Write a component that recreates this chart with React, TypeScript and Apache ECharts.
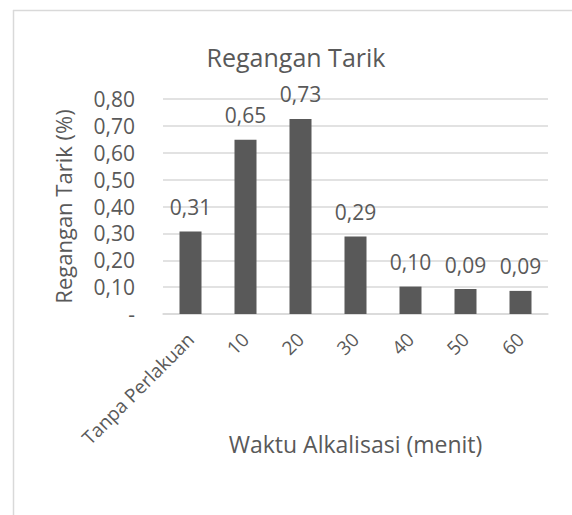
import React, { useEffect, useRef } from "react";
import * as echarts from "echarts";

const categories = ["Tanpa Perlakuan", "10", "20", "30", "40", "50", "60"];
const values = [0.307, 0.648, 0.726, 0.288, 0.102, 0.093, 0.086];
const chartTitle = "Regangan Tarik";
const yName = "Regangan Tarik (%)";
const xName = "Waktu Alkalisasi (menit)";

const FONT = "'Open Sans', 'Noto Sans', sans-serif";
const TEXT = "#595959";
const GRID = "#d9d9d9";

const fmt = (v: number) => (v === 0 ? "-" : v.toFixed(2).replace(".", ","));

export default function App() {
  const ref = useRef<HTMLDivElement>(null);
  useEffect(() => {
    if (!ref.current) return;
    const chart = echarts.init(ref.current, undefined, { renderer: "svg" });
    chart.setOption({
      animation: false,
      backgroundColor: "#ffffff",
      textStyle: { fontFamily: FONT },
      grid: { left: 163, right: 24, top: 99, bottom: 201, containLabel: false },
      graphic: [
        { type: "line", shape: { x1: 13.5, y1: 10, x2: 13.5, y2: 515 }, style: { stroke: GRID, lineWidth: 1.5 } },
        { type: "line", shape: { x1: 13, y1: 10.5, x2: 572, y2: 10.5 }, style: { stroke: GRID, lineWidth: 1.5 } },
        {
          type: "text",
          x: 296,
          y: 57,
          style: { text: chartTitle, fill: TEXT, font: `25px ${FONT}`, textAlign: "center", textVerticalAlign: "middle" },
        },
      ],
      xAxis: {
        type: "category",
        data: categories,
        name: xName,
        nameLocation: "middle",
        nameGap: 118,
        nameMoveOverlap: false,
        nameTextStyle: { color: TEXT, fontSize: 23, fontFamily: FONT },
        axisLine: { show: true, lineStyle: { color: GRID, width: 1.5 } },
        axisTick: { show: false },
        axisLabel: { rotate: 45, color: TEXT, fontSize: 19, fontFamily: FONT, margin: 22, interval: 0 },
      },
      yAxis: {
        type: "value",
        min: 0,
        max: 0.8,
        interval: 0.1,
        name: yName,
        nameLocation: "middle",
        nameRotate: 90,
        nameGap: 89,
        nameMoveOverlap: false,
        nameTextStyle: { color: TEXT, fontSize: 22, fontFamily: FONT },
        axisLine: { show: false },
        axisTick: { show: false },
        splitLine: { lineStyle: { color: GRID, width: 1.5 } },
        axisLabel: { color: TEXT, fontSize: 21, fontFamily: FONT, margin: 28, formatter: (v: number) => fmt(v) },
      },
      series: [
        {
          type: "bar",
          data: values,
          barWidth: "40%",
          itemStyle: { color: "#595959" },
          label: {
            show: true,
            position: "top",
            distance: 14,
            color: TEXT,
            fontSize: 21,
            fontFamily: FONT,
            formatter: (p: any) => fmt(p.value),
          },
        },
      ],
    });
    return () => chart.dispose();
  }, []);
  return <div ref={ref} style={{ position: "fixed", left: 0, top: 0, width: 572, height: 515 }} />;
}
